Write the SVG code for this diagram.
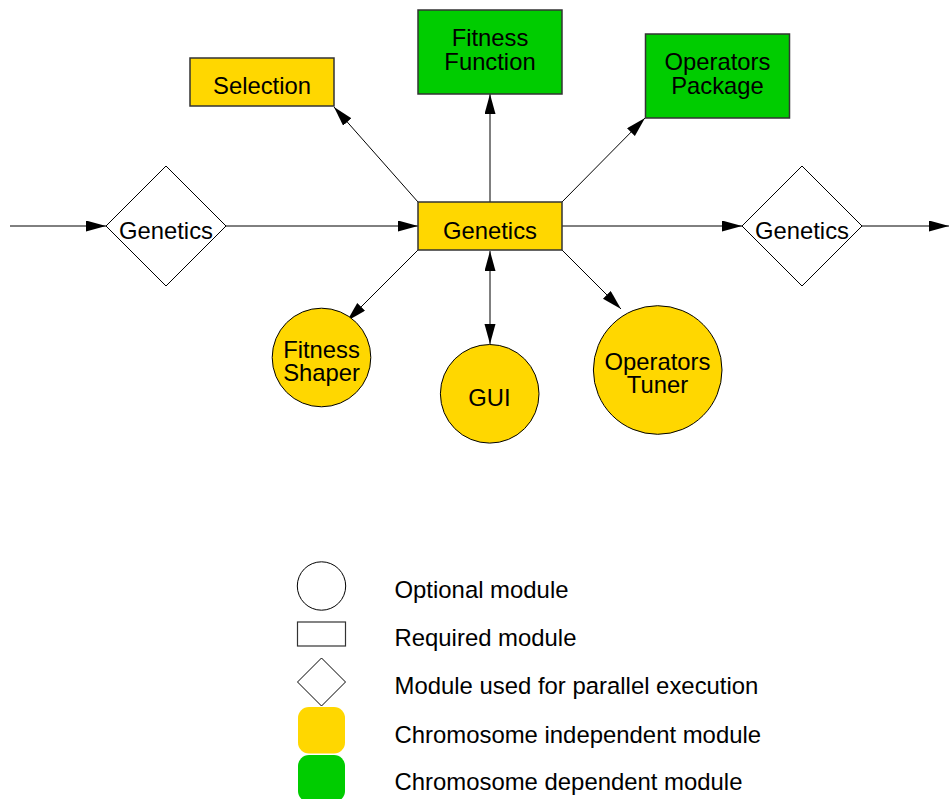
<svg xmlns="http://www.w3.org/2000/svg" width="949" height="799" viewBox="0 0 949 799">
  <style>
    .lbl { font-family: "Liberation Sans", Arial, Helvetica, sans-serif; font-size: 23.8px; fill: #000; text-anchor: middle; }
    .leg { font-family: "Liberation Sans", Arial, Helvetica, sans-serif; font-size: 23.9px; fill: #000; }
    .box { stroke: #333; stroke-width: 1.5; }
    .yel { fill: #FFD700; }
    .grn { fill: #00CC00; }
    .circ { stroke: #000; stroke-width: 1; }
    .dia { fill: #fff; stroke: #000; stroke-width: 1; }
    .edge { stroke: #000; stroke-width: 1; fill: none; marker-end: url(#arrow); }
  </style>
  <defs>
    <marker id="arrow" markerUnits="userSpaceOnUse" markerWidth="21" markerHeight="12" refX="20" refY="5.5" orient="auto-start-reverse">
      <path d="M0,0 L20,5.5 L0,11 Z" fill="#000"/>
    </marker>
  </defs>
  <rect width="949" height="799" fill="#fff"/>

  <!-- connectors -->
  <g id="edges">
    <line class="edge" x1="10" y1="226" x2="106" y2="226"/>
    <line class="edge" x1="226" y1="226" x2="418" y2="226"/>
    <line class="edge" x1="562" y1="226" x2="742" y2="226"/>
    <line class="edge" x1="862" y1="226" x2="949" y2="226"/>
    <line class="edge" x1="418" y1="202" x2="334" y2="107"/>
    <line class="edge" x1="490" y1="202" x2="490" y2="94"/>
    <line class="edge" x1="562" y1="202" x2="645" y2="118"/>
    <line class="edge" x1="418" y1="250" x2="347" y2="321"/>
    <line class="edge" x1="562" y1="250" x2="621" y2="309"/>
    <line class="edge" x1="490" y1="251" x2="490" y2="344" marker-start="url(#arrow)"/>
  </g>

  <!-- nodes -->
  <g id="selection">
    <rect class="box yel" x="190" y="58" width="144" height="48"/>
    <text class="lbl" x="262" y="94">Selection</text>
  </g>
  <g id="fitness-function">
    <rect class="box grn" x="418" y="10" width="144" height="84"/>
    <text class="lbl" x="490" y="46">Fitness</text>
    <text class="lbl" x="490" y="70">Function</text>
  </g>
  <g id="operators-package">
    <rect class="box grn" x="645.5" y="34" width="144" height="84"/>
    <text class="lbl" x="717.5" y="70">Operators</text>
    <text class="lbl" x="717.5" y="94">Package</text>
  </g>
  <g id="genetics-main">
    <rect class="box yel" x="418" y="202" width="144" height="48"/>
    <text class="lbl" x="490" y="238.5">Genetics</text>
  </g>
  <g id="genetics-left">
    <polygon class="dia" points="166,166 226,226 166,286 106,226"/>
    <text class="lbl" x="166" y="238.5">Genetics</text>
  </g>
  <g id="genetics-right">
    <polygon class="dia" points="802,166 862,226 802,286 742,226"/>
    <text class="lbl" x="802" y="238.5">Genetics</text>
  </g>
  <g id="fitness-shaper">
    <circle class="circ yel" cx="321.5" cy="357.5" r="49.3"/>
    <text class="lbl" x="321.5" y="358">Fitness</text>
    <text class="lbl" x="321.5" y="381">Shaper</text>
  </g>
  <g id="gui">
    <circle class="circ yel" cx="489.7" cy="393.8" r="49.3"/>
    <text class="lbl" x="489.5" y="405.5">GUI</text>
  </g>
  <g id="operators-tuner">
    <circle class="circ yel" cx="657.7" cy="370" r="64.3"/>
    <text class="lbl" x="657.5" y="369.5">Operators</text>
    <text class="lbl" x="657.5" y="392.5">Tuner</text>
  </g>

  <!-- legend -->
  <g id="legend">
    <circle cx="321.5" cy="586" r="24.2" fill="#fff" stroke="#000" stroke-width="1"/>
    <rect x="297.5" y="622" width="48" height="24" fill="#fff" stroke="#333" stroke-width="1.2"/>
    <polygon class="dia" points="321.5,658 345.5,682 321.5,706 297.5,682"/>
    <rect x="298" y="707" width="47" height="46.5" rx="11" fill="#FFD700"/>
    <rect x="298" y="755" width="47" height="47" rx="11" fill="#00CC00"/>
    <text class="leg" x="394.5" y="598">Optional module</text>
    <text class="leg" x="394.5" y="646">Required module</text>
    <text class="leg" x="394.5" y="694">Module used for parallel execution</text>
    <text class="leg" x="394.5" y="742.5">Chromosome independent module</text>
    <text class="leg" x="394.5" y="789.5">Chromosome dependent module</text>
  </g>
</svg>
